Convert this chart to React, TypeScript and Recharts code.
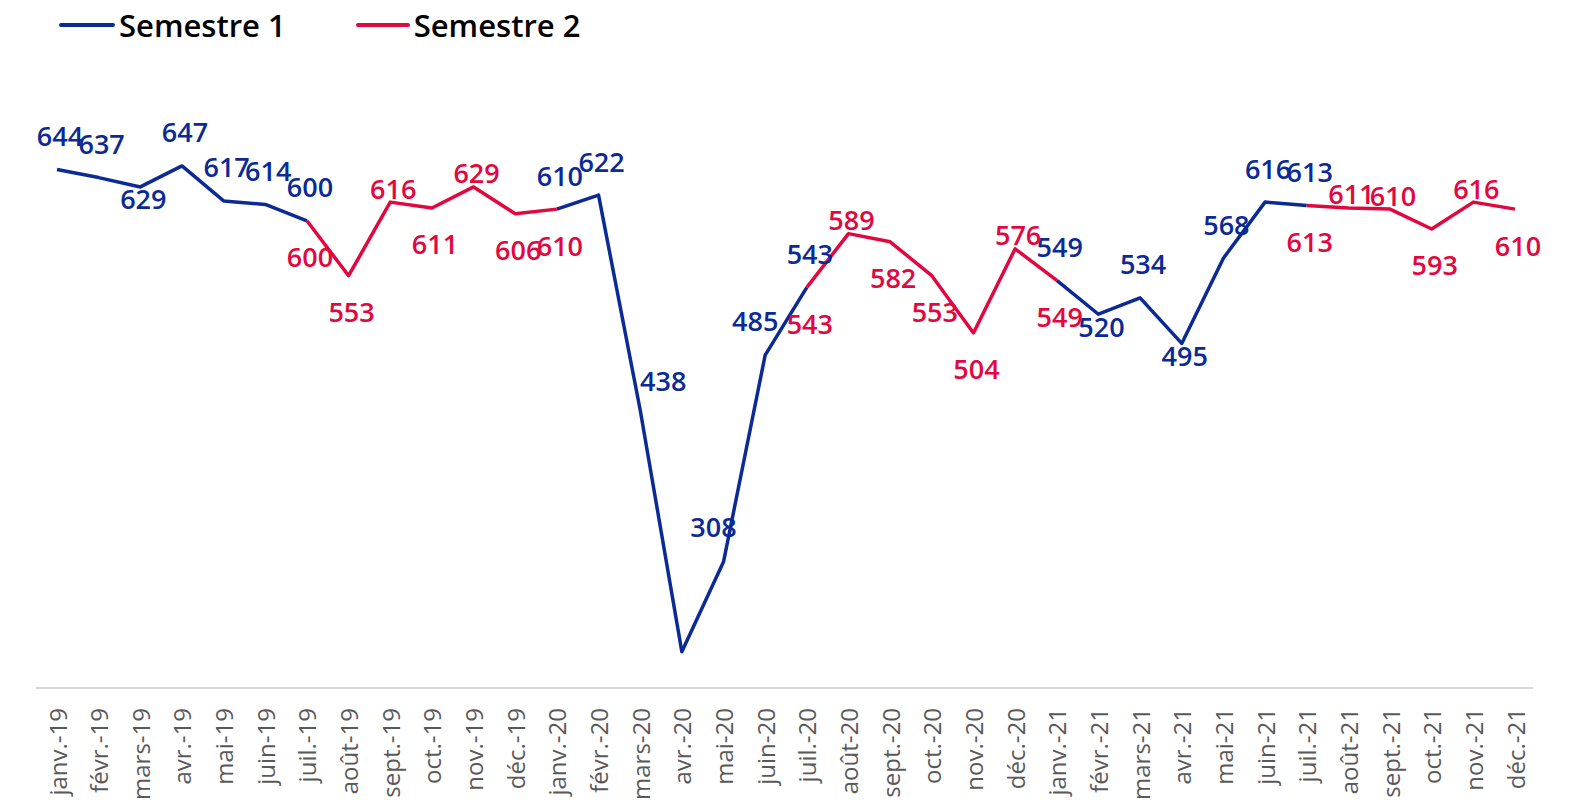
import { LineChart, Line, XAxis, YAxis, LabelList } from "recharts";

const months = [
  "janv.-19", "févr.-19", "mars-19", "avr.-19", "mai-19", "juin-19",
  "juil.-19", "août-19", "sept.-19", "oct.-19", "nov.-19", "déc.-19",
  "janv.-20", "févr.-20", "mars-20", "avr.-20", "mai-20", "juin-20",
  "juil.-20", "août-20", "sept.-20", "oct.-20", "nov.-20", "déc.-20",
  "janv.-21", "févr.-21", "mars-21", "avr.-21", "mai-21", "juin-21",
  "juil.-21", "août-21", "sept.-21", "oct.-21", "nov.-21", "déc.-21",
];

const semestre1 = [
  644, 637, 629, 647, 617, 614, 600, null, null, null, null, null,
  610, 622, 438, 231, 308, 485, 543, null, null, null, null, null,
  549, 520, 534, 495, 568, 616, 613, null, null, null, null, null,
];

const semestre2 = [
  null, null, null, null, null, null, 600, 553, 616, 611, 629, 606,
  610, null, null, null, null, null, 543, 589, 582, 553, 504, 576,
  549, null, null, null, null, null, 613, 611, 610, 593, 616, 610,
];

// months whose value label is not shown in the original
const hiddenLabels = ["avr.-20"];

const BLUE = "#0b2a96";
const RED = "#e3073f";
const FONT = "'Open Sans', sans-serif";

const data = months.map((m, i) => ({ month: m, s1: semestre1[i], s2: semestre2[i] }));

function placement(values: (number | null)[], i: number, isFirst: boolean) {
  const v = values[i] as number;
  const p = i > 0 ? values[i - 1] : null;
  const n = i < values.length - 1 ? values[i + 1] : null;
  if (isFirst) {
    if (p != null && p > v + 80) return "right";
    if ((p != null && v > p + 80) || (n != null && n > v + 80)) return "left";
    if (p != null && n != null && v < p && v < n) return "bottom";
    return "top";
  }
  if (p == null || n == null) return "bottom";
  if (v >= p - 3 && v >= n) return "top";
  return "bottom";
}

function makeLabel(values: (number | null)[], color: string, isFirst: boolean) {
  return (props: any) => {
    const { x, y, value, index } = props;
    if (value == null || hiddenLabels.includes(months[index])) return null;
    const pos = placement(values, index, isFirst);
    let tx = x + 3;
    let ty = y + (isFirst ? -34 : -14);
    if (pos === "bottom") ty = y + (isFirst ? 12 : 36);
    if (pos === "right") { tx = x + 23; ty = y - 30; }
    if (pos === "left") { tx = x - 10; ty = y - 35; }
    return (
      <text x={tx} y={ty} fill={color} textAnchor="middle" dominantBaseline="central"
        fontFamily={FONT} fontSize={27} fontWeight={600}>
        {value}
      </text>
    );
  };
}

const MonthTick = (props: any) => {
  const { x, y, payload } = props;
  return (
    <text transform={`translate(${x},${y + 12}) rotate(-90)`} textAnchor="end"
      dominantBaseline="central" fill="#595959" fontFamily={FONT} fontSize={24}>
      {payload.value}
    </text>
  );
};

export default function App() {
  return (
    <div style={{ position: "absolute", left: 0, top: 0, width: 1573, height: 805, background: "#fff" }}>
      <div style={{ position: "absolute", left: 0, top: 4, display: "flex", alignItems: "center",
        fontFamily: FONT, fontSize: 31, fontWeight: 600, color: "#000" }}>
        <span style={{ display: "inline-block", width: 56, height: 4, background: BLUE, marginLeft: 59, borderRadius: 2 }} />
        <span style={{ marginLeft: 4 }}>Semestre 1</span>
        <span style={{ display: "inline-block", width: 54, height: 4, background: RED, marginLeft: 70, borderRadius: 2 }} />
        <span style={{ marginLeft: 4 }}>Semestre 2</span>
      </div>
      <LineChart width={1573} height={805} data={data}
        margin={{ top: 104, right: 40, bottom: 0, left: 36 }}>
        <XAxis dataKey="month" height={117} interval={0} tickLine={false}
          padding={{ left: 21, right: 18 }}
          axisLine={{ stroke: "#d9d9d9", strokeWidth: 2 }} tick={<MonthTick />} />
        <YAxis hide width={0} domain={[200, 700]} />
        <Line dataKey="s1" stroke={BLUE} strokeWidth={3.5} dot={false} isAnimationActive={false}
          connectNulls={false} strokeLinejoin="round">
          <LabelList dataKey="s1" content={makeLabel(semestre1, BLUE, true)} />
        </Line>
        <Line dataKey="s2" stroke={RED} strokeWidth={3.5} dot={false} isAnimationActive={false}
          connectNulls={false} strokeLinejoin="round">
          <LabelList dataKey="s2" content={makeLabel(semestre2, RED, false)} />
        </Line>
      </LineChart>
    </div>
  );
}
